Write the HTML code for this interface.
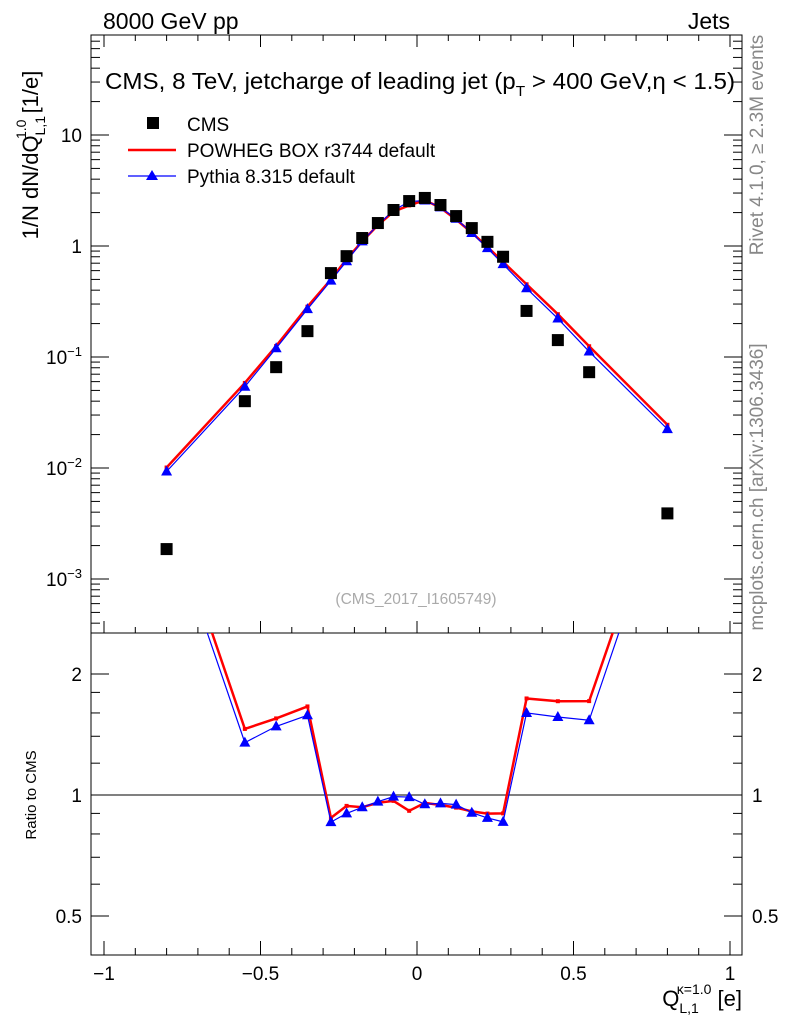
<!DOCTYPE html>
<html><head><meta charset="utf-8"><style>
body{margin:0;background:#fff;}
svg text{font-family:"Liberation Sans",sans-serif;}
</style></head><body>
<svg id="c" width="786" height="1024" xmlns="http://www.w3.org/2000/svg">
<text x="103" y="29" font-size="23">8000 GeV pp</text>
<text x="730" y="29" font-size="23" text-anchor="end">Jets</text>
<rect x="91" y="35" width="651" height="598" fill="none" stroke="#000"/>
<rect x="91" y="633" width="651" height="322" fill="none" stroke="#000"/>
<text x="105" y="89" font-size="23.5" textLength="630" lengthAdjust="spacingAndGlyphs">CMS, 8 TeV, jetcharge of leading jet (p<tspan font-size="15" dy="7">T</tspan><tspan dy="-7"> &gt; 400 GeV,η &lt; 1.5)</tspan></text>
<text transform="translate(38,155) rotate(-90)" font-size="22" text-anchor="middle">1/N dN/dQ<tspan font-size="14" dy="7">L,1</tspan><tspan font-size="14" dy="-19" dx="-22">1.0</tspan><tspan dy="12"> [1/e]</tspan></text>
<text transform="translate(36,795) rotate(-90)" font-size="15" text-anchor="middle">Ratio to CMS</text>
<text x="742" y="1006" font-size="22" text-anchor="end">Q<tspan font-size="14" dy="7">L,1</tspan><tspan font-size="14" dy="-19" dx="-22">κ=1.0</tspan><tspan dy="12"> [e]</tspan></text>
<text transform="translate(763,145) rotate(-90)" font-size="19" fill="#888" text-anchor="middle">Rivet 4.1.0, ≥ 2.3M events</text>
<text transform="translate(763,487) rotate(-90)" font-size="19" fill="#888" text-anchor="middle">mcplots.cern.ch [arXiv:1306.3436]</text>
<text x="416" y="604" font-size="15.5" fill="#aaa" text-anchor="middle">(CMS_2017_I1605749)</text>
<g id="ax"></g><g id="marks"></g>
<g>
<rect x="147" y="117" width="12" height="12" fill="#000"/>
<text x="187" y="131" font-size="19">CMS</text>
<line x1="128" y1="150" x2="176" y2="150" stroke="#f00" stroke-width="2.5"/>
<text x="187" y="157" font-size="19">POWHEG BOX r3744 default</text>
<line x1="128" y1="176" x2="176" y2="176" stroke="#00f" stroke-width="1.2"/>
<polygon points="152,170 158,180 146,180" fill="#00f"/>
<text x="187" y="183" font-size="19">Pythia 8.315 default</text>
</g>
</svg>
<script>
const xs=[-0.8,-0.55,-0.45,-0.35,-0.275,-0.225,-0.175,-0.125,-0.075,-0.025,0.025,0.075,0.125,0.175,0.225,0.275,0.35,0.45,0.55,0.8];
const cms=[0.00186,0.040,0.081,0.171,0.57,0.81,1.18,1.61,2.11,2.54,2.71,2.34,1.86,1.45,1.09,0.80,0.26,0.142,0.073,0.0039];
const powheg=[0.0101,0.0584,0.1256,0.284,0.50,0.761,1.10,1.54,2.04,2.32,2.59,2.21,1.73,1.32,0.98,0.72,0.452,0.243,0.125,0.0245];
const pythia=[0.0093,0.054,0.12,0.27,0.488,0.729,1.10,1.55,2.09,2.51,2.57,2.23,1.76,1.31,0.956,0.686,0.416,0.222,0.112,0.0224];
const xTicks=[-1,-0.5,0,0.5,1];
const xTickLabels=["−1","−0.5","0","0.5","1"];
const yDecades=[-3,-2,-1,0,1];
const yLabels=["10<tspan font-size='13' dy='-8'>−3</tspan>","10<tspan font-size='13' dy='-8'>−2</tspan>","10<tspan font-size='13' dy='-8'>−1</tspan>","1","10"];
const rTicks=[0.5,1,2];
const NS="http://www.w3.org/2000/svg";
const X=v=>417+313*v;
const Y=v=>246-111*Math.log10(v);
const R=r=>795-121*Math.log2(r);
const ax=document.getElementById('ax'),mk=document.getElementById('marks');
function el(p,t,a){const e=document.createElementNS(NS,t);for(const k in a)e.setAttribute(k,a[k]);p.appendChild(e);return e;}
let s='';
xTicks.forEach((v,i)=>{const x=X(v);
 s+=`<line x1="${x}" y1="633" x2="${x}" y2="621" stroke="#000"/><line x1="${x}" y1="955" x2="${x}" y2="941" stroke="#000"/><line x1="${x}" y1="35" x2="${x}" y2="47" stroke="#000"/>`;
 s+=`<text x="${x}" y="980" font-size="19" text-anchor="middle">${xTickLabels[i]}</text>`;});
for(let v=-1;v<=1.0001;v+=0.1){const x=X(v);if(x<91||x>742)continue;
 s+=`<line x1="${x}" y1="633" x2="${x}" y2="627" stroke="#000"/><line x1="${x}" y1="955" x2="${x}" y2="948" stroke="#000"/><line x1="${x}" y1="35" x2="${x}" y2="41" stroke="#000"/>`;}
yDecades.forEach((d,i)=>{const y=Y(Math.pow(10,d));
 s+=`<line x1="91" y1="${y}" x2="109" y2="${y}" stroke="#000"/><line x1="742" y1="${y}" x2="724" y2="${y}" stroke="#000"/>`;
 s+=`<text x="82" y="${y+7}" font-size="19" text-anchor="end">${yLabels[i]}</text>`;
 for(let m=2;m<10;m++){const yy=Y(m*Math.pow(10,d));if(yy<35)continue;s+=`<line x1="91" y1="${yy}" x2="100" y2="${yy}" stroke="#000"/><line x1="742" y1="${yy}" x2="733" y2="${yy}" stroke="#000"/>`;}
});
for(let m=4;m<10;m++){const yy=Y(m*1e-4);if(yy<633)s+=`<line x1="91" y1="${yy}" x2="100" y2="${yy}" stroke="#000"/><line x1="742" y1="${yy}" x2="733" y2="${yy}" stroke="#000"/>`;}
rTicks.forEach(r=>{const y=R(r);
 s+=`<line x1="91" y1="${y}" x2="109" y2="${y}" stroke="#000"/><line x1="742" y1="${y}" x2="724" y2="${y}" stroke="#000"/>`;
 s+=`<text x="82" y="${y+7}" font-size="19" text-anchor="end">${r}</text><text x="752" y="${y+7}" font-size="19">${r}</text>`;});
[0.6,0.7,0.8,0.9,1.2,1.4,1.6,1.8].forEach(r=>{const y=R(r);s+=`<line x1="91" y1="${y}" x2="100" y2="${y}" stroke="#000"/><line x1="742" y1="${y}" x2="733" y2="${y}" stroke="#000"/>`;});
s+=`<line x1="91" y1="795" x2="742" y2="795" stroke="#000"/>`;
ax.innerHTML=s;
const cp=el(mk,'clipPath',{id:'cm'});el(cp,'rect',{x:91,y:35,width:651,height:598});
const cr=el(mk,'clipPath',{id:'cr'});el(cr,'rect',{x:91,y:633,width:651,height:322});
const gm=el(mk,'g',{'clip-path':'url(#cm)'}),gr=el(mk,'g',{'clip-path':'url(#cr)'});
function series(g,vals,yf,col,w,tri,name){
 const l=el(g,'polyline',{points:vals.map((v,i)=>X(xs[i])+','+yf(v,i)).join(' '),fill:'none',stroke:col,'stroke-width':w});
 
 
 vals.forEach((v,i)=>{const x=X(xs[i]),y=yf(v,i);let p;
  if(tri)p=el(g,'polygon',{points:`${x},${y-6} ${x+5.5},${y+4} ${x-5.5},${y+4}`,fill:col});
  else p=el(g,'rect',{x:x-2,y:y-2,width:4,height:4,fill:col});
  
  });
}
series(gm,powheg,v=>Y(v),'#f00',2.5,false,'powheg');
series(gm,pythia,v=>Y(v),'#00f',1.2,true,'pythia');
cms.forEach((v,i)=>{const r=el(gm,'rect',{x:X(xs[i])-6,y:Y(v)-6,width:12,height:12,fill:'#000'});
 
 });
series(gr,powheg,(v,i)=>R(v/cms[i]),'#f00',2.5,false,'powheg-ratio');
series(gr,pythia,(v,i)=>R(v/cms[i]),'#00f',1.2,true,'pythia-ratio');
</script>
</body></html>
